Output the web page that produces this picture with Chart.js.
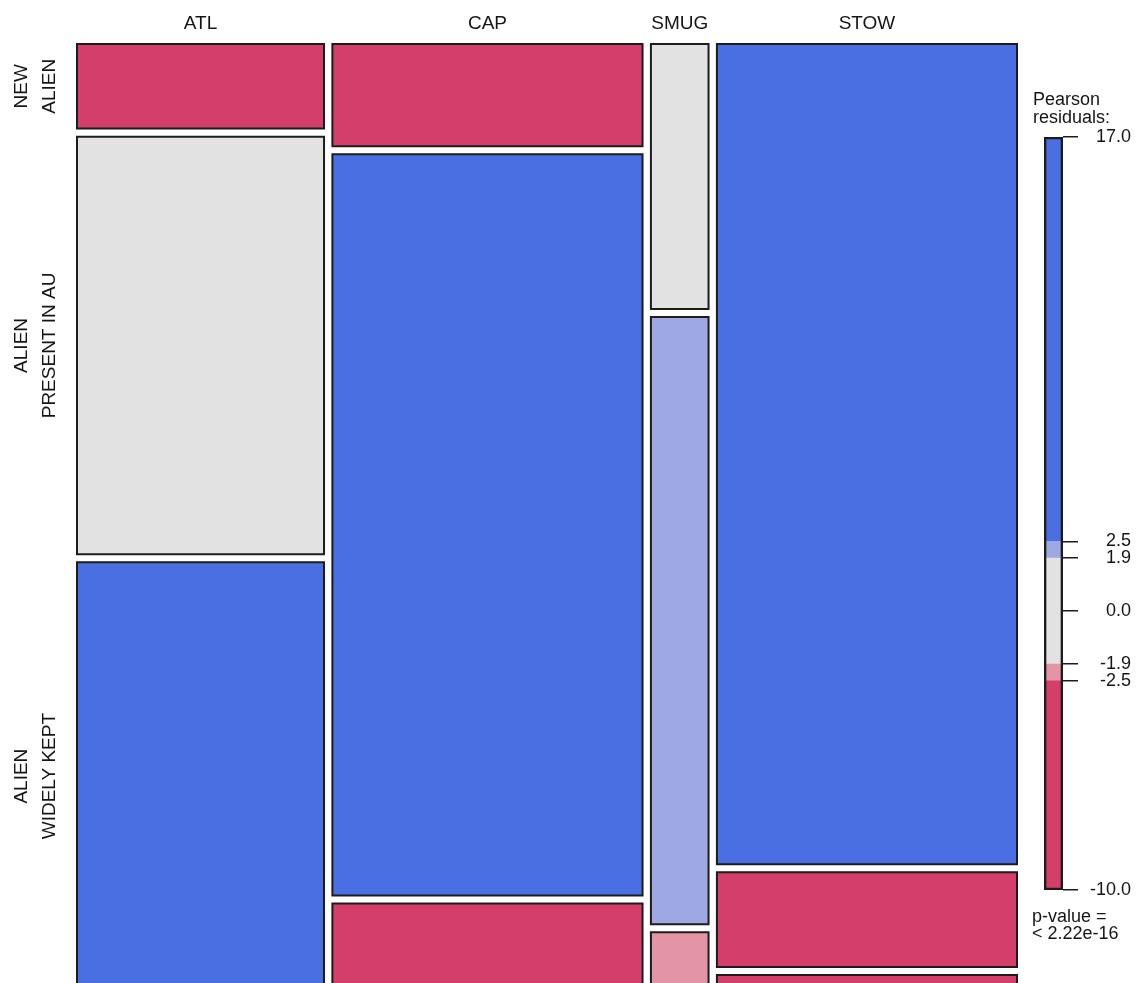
<!DOCTYPE html>
<html>
<head>
<meta charset="utf-8">
<title>Alien status by source</title>
<script src="https://cdn.jsdelivr.net/npm/chart.js@4.4.1/dist/chart.umd.min.js"></script>
<style>
  html, body { margin: 0; padding: 0; background: #fff; }
  #frame { position: relative; width: 1146px; height: 983px; overflow: hidden; }
  #mosaicBox { position: absolute; left: 0; top: 0; width: 1146px; height: 1000px; }
  #legendBox { position: absolute; left: 1000px; top: 0; width: 146px; height: 983px; }
</style>
</head>
<body>
<div id="frame">
  <div id="mosaicBox"><canvas id="mosaic"></canvas></div>
  <div id="legendBox"><canvas id="legend"></canvas></div>
</div>
<script>
const sources = ['ATL', 'CAP', 'SMUG', 'STOW'];
const statuses = [['NEW', 'ALIEN'], ['ALIEN', 'PRESENT IN AU'], ['ALIEN', 'WIDELY KEPT']];

// share of each source (column widths)
const sourceShares = [0.270, 0.339, 0.063, 0.328];

// share of each status inside a source (top to bottom)
const atlRows = [0.091, 0.449, 0.460];
const capRows = [0.110, 0.797, 0.093];
const smugRows = [0.285, 0.653, 0.062];
const stowRows = [0.882, 0.102, 0.016];

// residual class of each cell: pos2 > 2.5, pos1 1.9..2.5, none, neg1 -2.5..-1.9, neg2 < -2.5
const atlShade = ['neg2', 'none', 'pos2'];
const capShade = ['neg2', 'pos2', 'neg2'];
const smugShade = ['none', 'pos1', 'neg1'];
const stowShade = ['pos2', 'neg2', 'neg2'];

// legend
const residualCuts = [-10, -2.5, -1.9, 1.9, 2.5, 17];
const cutShades = ['neg2', 'neg1', 'none', 'pos1', 'pos2'];
const legendTicks = [17, 2.5, 1.9, 0, -1.9, -2.5, -10];
const pValueText = ['p-value =', '< 2.22e-16'];

const shadeColors = {
    pos2: '#4a6fe3',
    pos1: '#9ea8e2',
    none: '#e2e2e2',
    neg1: '#e495a5',
    neg2: '#d33f6a'
};

const FONT = '"Liberation Sans", Arial, sans-serif';
const INK = '#151515';
const EDGE = '#1c1c1c';
const GAP_X = 0.0089;
const GAP_Y = 0.0085;

const rowShares = [atlRows, capRows, smugRows, stowRows];
const rowShades = [atlShade, capShade, smugShade, stowShade];

// build the mosaic tiles in data units (x: 0..1 left to right, y: 0..1 top to bottom)
const tiles = [];
const columnCenters = [];
let x0 = 0;
sourceShares.forEach((share, i) => {
    const w = share * (1 - GAP_X * (sourceShares.length - 1));
    columnCenters.push(x0 + w / 2);
    let y0 = 0;
    const rows = rowShares[i];
    rows.forEach((r, j) => {
        const h = r * (1 - GAP_Y * (rows.length - 1));
        tiles.push({ col: i, row: j, x0: x0, x1: x0 + w, y0: y0, y1: y0 + h, shade: rowShades[i][j] });
        y0 += h + GAP_Y;
    });
    x0 += w + GAP_X;
});

// row label centres follow the first column
const rowCenters = tiles.filter(t => t.col === 0).map(t => (t.y0 + t.y1) / 2);

const mosaicLabels = {
    id: 'mosaicLabels',
    afterDraw(chart) {
        const ctx = chart.ctx;
        const xs = chart.scales.x;
        const ys = chart.scales.y;
        ctx.save();
        ctx.fillStyle = INK;
        ctx.font = '19px ' + FONT;
        ctx.textAlign = 'center';
        ctx.textBaseline = 'alphabetic';
        sources.forEach((name, i) => {
            ctx.fillText(name, xs.getPixelForValue(columnCenters[i]), 29);
        });
        const baselines = [27, 55];
        statuses.forEach((lines, j) => {
            const cy = ys.getPixelForValue(rowCenters[j]);
            lines.forEach((line, k) => {
                ctx.save();
                ctx.translate(baselines[k], cy);
                ctx.rotate(-Math.PI / 2);
                ctx.fillText(line, 0, 0);
                ctx.restore();
            });
        });
        ctx.restore();
    }
};

new Chart(document.getElementById('mosaic'), {
    type: 'scatter',
    data: {
        datasets: tiles.map(t => ({
            data: [
                { x: t.x0, y: t.y0 }, { x: t.x1, y: t.y0 },
                { x: t.x1, y: t.y1 }, { x: t.x0, y: t.y1 },
                { x: t.x0, y: t.y0 }
            ],
            showLine: true,
            fill: 'shape',
            clip: false,
            backgroundColor: shadeColors[t.shade],
            borderColor: EDGE,
            borderWidth: 2,
            borderJoinStyle: 'miter',
            borderCapStyle: 'square',
            pointRadius: 0,
            tension: 0
        }))
    },
    options: {
        responsive: true,
        maintainAspectRatio: false,
        animation: false,
        events: [],
        layout: { padding: { left: 77, right: 129, top: 44, bottom: 10 } },
        scales: {
            x: { type: 'linear', min: 0, max: 1, display: false },
            y: { type: 'linear', min: 0, max: 1, reverse: true, display: false }
        },
        plugins: { legend: { display: false }, tooltip: { enabled: false } }
    },
    plugins: [mosaicLabels]
});

const legendNotes = {
    id: 'legendNotes',
    afterDraw(chart) {
        const ctx = chart.ctx;
        ctx.save();
        ctx.fillStyle = INK;
        ctx.font = '18px ' + FONT;
        ctx.textAlign = 'left';
        ctx.textBaseline = 'alphabetic';
        ctx.fillText('Pearson', 33, 105);
        ctx.fillText('residuals:', 33, 123);
        ctx.fillText(pValueText[0], 32, 922);
        ctx.fillText(pValueText[1], 32, 939);
        ctx.restore();
    }
};

const bandSets = cutShades.map((shade, i) => ({
    data: [[residualCuts[i], residualCuts[i + 1]]],
    backgroundColor: shadeColors[shade],
    borderWidth: 0,
    order: 1
}));

new Chart(document.getElementById('legend'), {
    type: 'bar',
    data: {
        labels: [''],
        datasets: [{
            data: [[residualCuts[0], residualCuts[residualCuts.length - 1]]],
            backgroundColor: 'rgba(0,0,0,0)',
            borderColor: EDGE,
            borderWidth: 2,
            borderSkipped: false,
            order: 0
        }].concat(bandSets)
    },
    options: {
        responsive: true,
        maintainAspectRatio: false,
        animation: false,
        events: [],
        layout: { padding: { left: 44, right: 15, top: 137, bottom: 93 } },
        datasets: { bar: { grouped: false, barPercentage: 1, categoryPercentage: 1 } },
        scales: {
            x: { display: false },
            y: {
                position: 'right',
                min: -10,
                max: 17,
                afterBuildTicks: s => { s.ticks = legendTicks.map(v => ({ value: v })); },
                afterFit: s => { s.width = 68; },
                border: { display: false },
                grid: { drawOnChartArea: false, drawTicks: true, tickLength: 15, color: EDGE, lineWidth: 1.5 },
                ticks: {
                    crossAlign: 'far',
                    padding: 8,
                    color: INK,
                    font: { family: FONT, size: 18 },
                    callback: v => Number(v).toFixed(1)
                }
            }
        },
        plugins: { legend: { display: false }, tooltip: { enabled: false } }
    },
    plugins: [legendNotes]
});
</script>
</body>
</html>
